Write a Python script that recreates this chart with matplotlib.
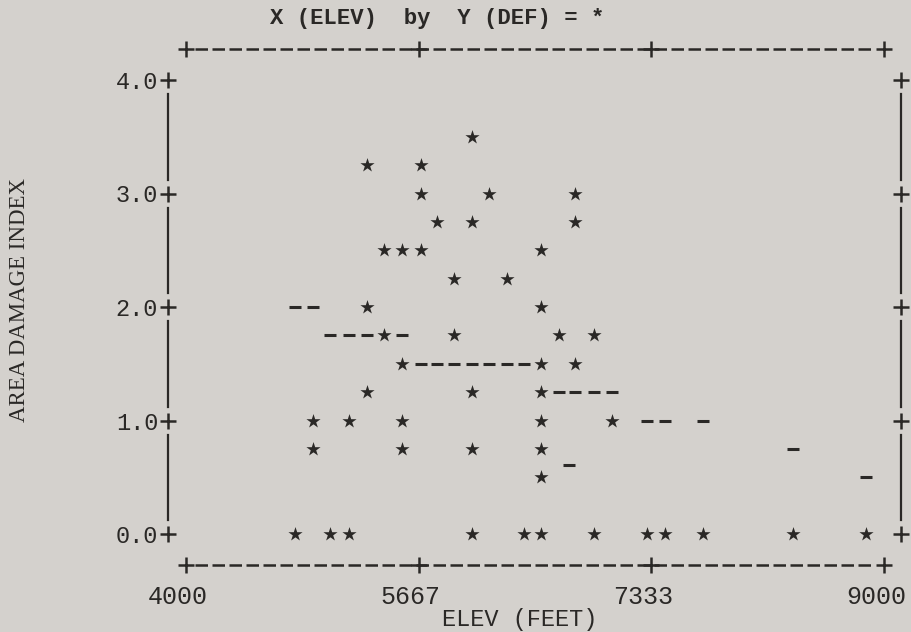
import matplotlib
matplotlib.use('Agg')
import matplotlib.pyplot as plt
from matplotlib.transforms import ScaledTranslation

# line-printer plot: ELEV (feet) vs area damage index
star_elev = [6050,
             5300, 5680,
             5680, 6170, 6790,
             5800, 6050, 6790,
             5420, 5550, 5680, 6540,
             5920, 6300,
             5300, 6540,
             5420, 5920, 6670, 6920,
             5550, 6540, 6790,
             5300, 6050, 6540,
             4910, 5170, 5550, 6540, 7050,
             4910, 5550, 6050, 6540,
             6540,
             4780, 5030, 5170, 6050, 6420, 6540, 6920, 7300, 7430, 7700, 8350, 8870]
star_def = [3.5,
            3.25, 3.25,
            3.0, 3.0, 3.0,
            2.75, 2.75, 2.75,
            2.5, 2.5, 2.5, 2.5,
            2.25, 2.25,
            2.0, 2.0,
            1.75, 1.75, 1.75, 1.75,
            1.5, 1.5, 1.5,
            1.25, 1.25, 1.25,
            1.0, 1.0, 1.0, 1.0, 1.0,
            0.75, 0.75, 0.75, 0.75,
            0.5,
            0.0, 0.0, 0.0, 0.0, 0.0, 0.0, 0.0, 0.0, 0.0, 0.0, 0.0, 0.0]

dash_elev = [4780, 4910,
             5030, 5170, 5300, 5550,
             5680, 5800, 5920, 6050, 6170, 6300, 6420,
             6670, 6790, 6920, 7050,
             7300, 7430, 7700,
             8350, 6740, 8870]
dash_def = [2.0, 2.0,
            1.75, 1.75, 1.75, 1.75,
            1.5, 1.5, 1.5, 1.5, 1.5, 1.5, 1.5,
            1.25, 1.25, 1.25, 1.25,
            1.0, 1.0, 1.0,
            0.75, 0.61, 0.5]

x_ticks = [4000, 5667, 7333, 9000]
x_labels = ['4000', '5667', '7333', '9000']
y_ticks = [0.0, 1.0, 2.0, 3.0, 4.0]
y_labels = ['0.0', '1.0', '2.0', '3.0', '4.0']

BG = '#d4d1cd'
INK = '#2a2826'
MONO = 'Liberation Mono'

W, H = 912, 632
fig = plt.figure(figsize=(W / 100, H / 100), dpi=100)
fig.patch.set_facecolor(BG)
ax = fig.add_axes([186 / W, 98 / H, 698 / W, 454 / H])
ax.set_facecolor(BG)
ax.set_xlim(x_ticks[0], x_ticks[-1])
ax.set_ylim(y_ticks[0], y_ticks[-1])
for s in ax.spines.values():
    s.set_visible(False)

fx = (x_ticks[-1] - x_ticks[0]) / 698   # feet per pixel
fy = (y_ticks[-1] - y_ticks[0]) / 454   # index per pixel

# plotted symbols
ax.scatter(star_elev, star_def, marker='*', s=115, color=INK, lw=0, clip_on=False, zorder=3)
ax.scatter(dash_elev, dash_def, marker='_', s=85, color=INK, lw=2.2, clip_on=False, zorder=3)

# top and bottom borders  +-----+-----+
x_left, x_right = x_ticks[0] - 18 * fx, x_ticks[-1] + 17 * fx
y_top, y_bot = y_ticks[-1] + 31 * fy, y_ticks[0] - 31 * fy
for yb in (y_top, y_bot):
    ax.plot([x_ticks[0] + 9 * fx, x_ticks[-1] - 9 * fx], [yb, yb], color=INK, lw=1.8,
            linestyle=(0, (5.0, 1.8)), clip_on=False)
    ax.plot(x_ticks, [yb] * len(x_ticks), linestyle='none', marker='+', ms=11,
            mew=1.8, color=INK, clip_on=False)

# left and right borders  +|+|+
for xb in (x_left, x_right):
    ax.plot([xb] * len(y_ticks), y_ticks, linestyle='none', marker='+', ms=12,
            mew=1.8, color=INK, clip_on=False)
    for y0, y1 in zip(y_ticks[:-1], y_ticks[1:]):
        ax.plot([xb, xb], [y0 + 14 * fy, y1 - 14 * fy], color=INK, lw=1.6, clip_on=False)

# tick labels
ax.set_xticks(x_ticks)
ax.set_xticklabels(x_labels, fontfamily=MONO, fontsize=18, color=INK)
ax.set_yticks(y_ticks)
ax.set_yticklabels(y_labels, fontfamily=MONO, fontsize=17, color=INK)
ax.tick_params(axis='x', length=0, pad=37)
ax.tick_params(axis='y', length=0, pad=20)
shift = ScaledTranslation(-8 / 100, 0, fig.dpi_scale_trans)
for lab in ax.get_xticklabels():
    lab.set_transform(lab.get_transform() + shift)

ax.text(0.3596, 1.136, 'X (ELEV)  by  Y (DEF) = *', transform=ax.transAxes,
        ha='center', va='center', fontfamily=MONO, fontsize=16, fontweight='bold', color=INK)
ax.text(0.4785, -0.189, 'ELEV (FEET)', transform=ax.transAxes,
        ha='center', va='center', fontfamily=MONO, fontsize=17, color=INK)
ax.text(-0.238, 0.515, 'AREA DAMAGE INDEX', transform=ax.transAxes, rotation=90,
        ha='center', va='center', fontfamily='Liberation Serif', fontsize=16.5, color=INK)

fig.savefig('out.png', dpi=100, facecolor=BG)
